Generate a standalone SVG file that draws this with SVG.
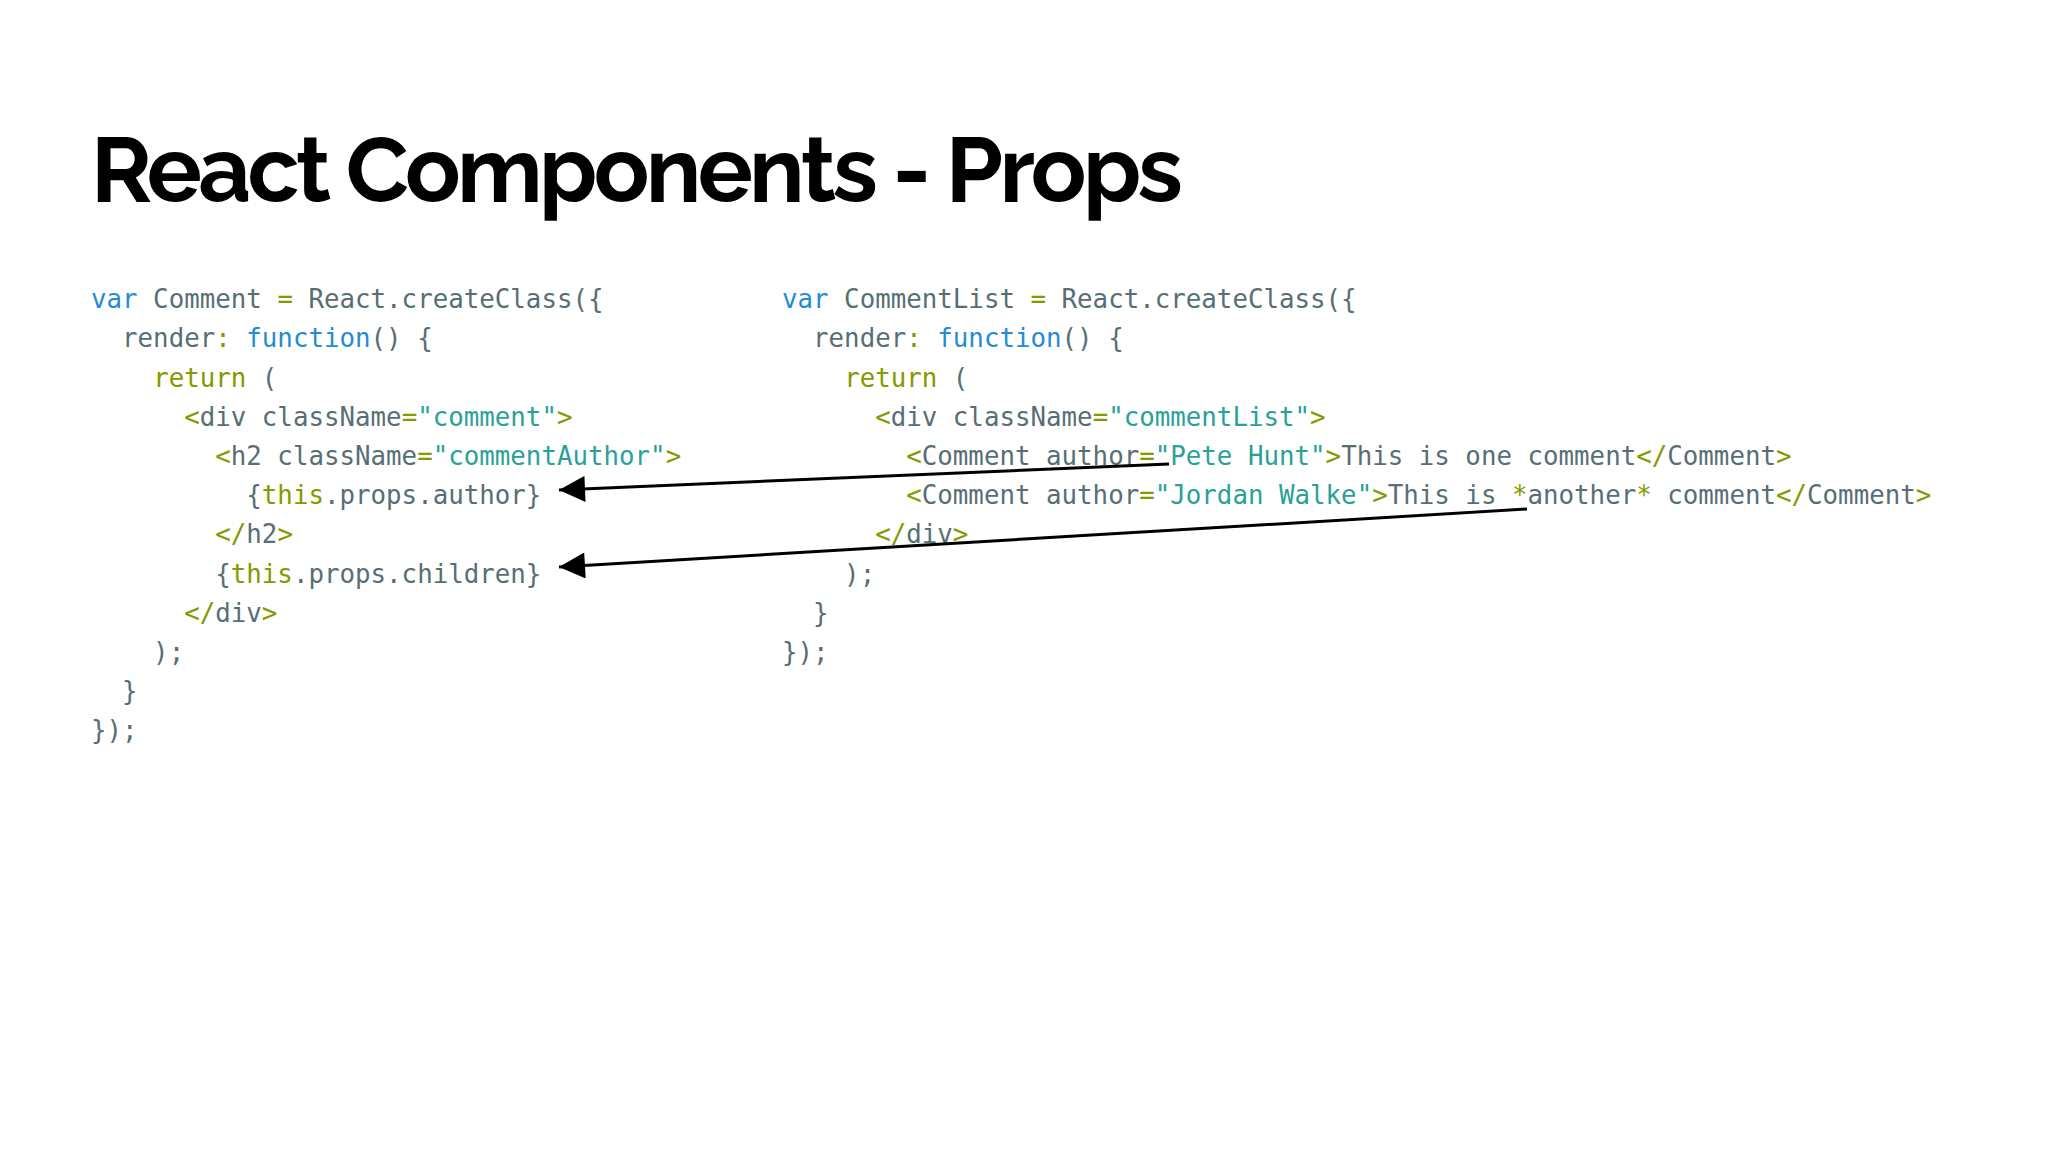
<svg xmlns="http://www.w3.org/2000/svg" width="2048" height="1152" viewBox="0 0 2048 1152">
<style>
.t{font-family:"Raleway","Lato","Inter",sans-serif;font-weight:bold;font-size:92px;fill:#000}
.c{font-family:"DejaVu Sans Mono","Liberation Mono",monospace;font-size:25.8px;fill:#586e75;white-space:pre}
.k{fill:#268bd2}.g{fill:#859900}.s{fill:#2aa198}
</style>
<defs><marker id="ah" viewBox="0 0 10 10" refX="9" refY="5" markerWidth="10" markerHeight="10" markerUnits="userSpaceOnUse" orient="auto"><path d="M0,0L10,5L0,10z" fill="#000"/></marker>
<marker id="a" viewBox="0 0 10 10" refX="10" refY="5" markerWidth="28" markerHeight="26" markerUnits="userSpaceOnUse" orient="auto"><path d="M0,0L10,5L0,10z" fill="#000"/></marker></defs>
<rect width="2048" height="1152" fill="#fff"/>
<text class="t" x="91" y="202" textLength="1092">React Components - Props</text>
<g id="comment" xml:space="preserve">
<text class="c" x="91" y="308"><tspan class="k">var</tspan> Comment <tspan class="g">=</tspan> React.createClass({</text>
<text class="c" x="91" y="347">  render<tspan class="g">:</tspan> <tspan class="k">function</tspan>() {</text>
<text class="c" x="91" y="387">    <tspan class="g">return</tspan> (</text>
<text class="c" x="91" y="426">      <tspan class="g">&lt;</tspan>div className<tspan class="g">=</tspan><tspan class="s">"comment"</tspan><tspan class="g">&gt;</tspan></text>
<text class="c" x="91" y="465">        <tspan class="g">&lt;</tspan>h2 className<tspan class="g">=</tspan><tspan class="s">"commentAuthor"</tspan><tspan class="g">&gt;</tspan></text>
<text class="c" x="91" y="504">          {<tspan class="g">this</tspan>.props.author}</text>
<text class="c" x="91" y="543">        <tspan class="g">&lt;/</tspan>h2<tspan class="g">&gt;</tspan></text>
<text class="c" x="91" y="583">        {<tspan class="g">this</tspan>.props.children}</text>
<text class="c" x="91" y="622">      <tspan class="g">&lt;/</tspan>div<tspan class="g">&gt;</tspan></text>
<text class="c" x="91" y="661">    );</text>
<text class="c" x="91" y="700">  }</text>
<text class="c" x="91" y="739">});</text>
</g>
<g id="commentlist" xml:space="preserve">
<text class="c" x="782" y="308"><tspan class="k">var</tspan> CommentList <tspan class="g">=</tspan> React.createClass({</text>
<text class="c" x="782" y="347">  render<tspan class="g">:</tspan> <tspan class="k">function</tspan>() {</text>
<text class="c" x="782" y="387">    <tspan class="g">return</tspan> (</text>
<text class="c" x="782" y="426">      <tspan class="g">&lt;</tspan>div className<tspan class="g">=</tspan><tspan class="s">"commentList"</tspan><tspan class="g">&gt;</tspan></text>
<text class="c" x="782" y="465">        <tspan class="g">&lt;</tspan>Comment author<tspan class="g">=</tspan><tspan class="s">"Pete Hunt"</tspan><tspan class="g">&gt;</tspan>This is one comment<tspan class="g">&lt;/</tspan>Comment<tspan class="g">&gt;</tspan></text>
<text class="c" x="782" y="504">        <tspan class="g">&lt;</tspan>Comment author<tspan class="g">=</tspan><tspan class="s">"Jordan Walke"</tspan><tspan class="g">&gt;</tspan>This is <tspan class="g">*</tspan>another<tspan class="g">*</tspan> comment<tspan class="g">&lt;/</tspan>Comment<tspan class="g">&gt;</tspan></text>
<text class="c" x="782" y="543">      <tspan class="g">&lt;/</tspan>div<tspan class="g">&gt;</tspan></text>
<text class="c" x="782" y="583">    );</text>
<text class="c" x="782" y="622">  }</text>
<text class="c" x="782" y="661">});</text>
</g>
<g id="connectors" stroke="#000" stroke-width="3" fill="none">
<line x1="1169" y1="464" x2="559" y2="490" marker-end="url(#a)"/>
<line x1="1527" y1="509" x2="559" y2="567" marker-end="url(#a)"/>
</g>
</svg>
